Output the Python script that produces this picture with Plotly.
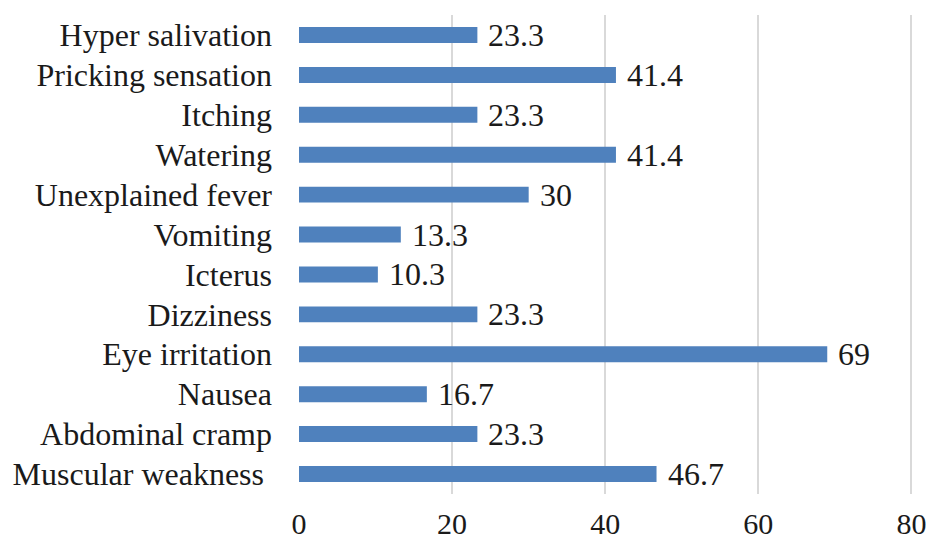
import plotly.graph_objects as go

categories = ["Muscular weakness ", "Abdominal cramp", "Nausea", "Eye irritation",
              "Dizziness", "Icterus", "Vomiting", "Unexplained fever", "Watering",
              "Itching", "Pricking sensation", "Hyper salivation"]
values = [46.7, 23.3, 16.7, 69, 23.3, 10.3, 13.3, 30, 41.4, 23.3, 41.4, 23.3]
labels = ["46.7", "23.3", "16.7", "69", "23.3", "10.3", "13.3", "30", "41.4", "23.3", "41.4", "23.3"]
x_ticks = [0, 20, 40, 60, 80]

FONT = "Liberation Serif"
SIZE = 32
fig = go.Figure(go.Bar(
    x=values, y=categories, orientation="h",
    marker=dict(color="#4f81bd", line=dict(width=0)),
    width=0.4,
))
for c, v, t in zip(categories, values, labels):
    fig.add_annotation(x=v, y=c, text=t, xanchor="left", yanchor="middle",
                       xshift=9, showarrow=False,
                       font=dict(family=FONT, size=SIZE, color="#1a1a1a"))

fig.update_layout(
    width=927, height=543,
    margin=dict(l=299, r=14, t=15, b=49),
    paper_bgcolor="white", plot_bgcolor="white",
    showlegend=False,
    font=dict(family=FONT, size=SIZE, color="#1a1a1a"),
)
fig.update_xaxes(range=[0, 80.2], tickvals=x_ticks, ticktext=[str(v) for v in x_ticks],
                 showgrid=True, gridcolor="#d9d9d9", gridwidth=1.5,
                 zeroline=False, showline=False, ticks="",
                 ticklabelstandoff=9, automargin=False,
                 ticklabeloverflow="allow",
                 tickfont=dict(family=FONT, size=30, color="#1a1a1a"))
fig.update_yaxes(categoryorder="array", categoryarray=categories,
                 showgrid=False, zeroline=False, showline=False, ticks="",
                 ticklabelstandoff=26, automargin=False,
                 tickfont=dict(family=FONT, size=SIZE, color="#1a1a1a"))
fig.write_html("out.html")
